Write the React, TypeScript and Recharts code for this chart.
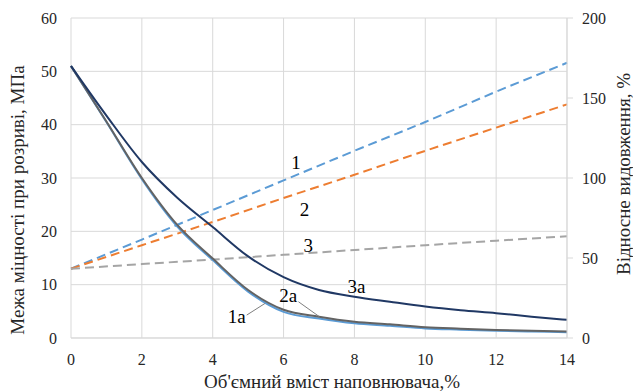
import {
  ComposedChart,
  Line,
  XAxis,
  YAxis,
  CartesianGrid,
  ReferenceDot,
  ReferenceLine,
  Label,
} from "recharts";

// filler volume content, %
const fillerContent = [0, 1, 2, 3, 4, 5, 6, 7, 8, 9, 10, 11, 12, 13, 14];

// tensile strength, MPa (left axis)
const strength1a = [51, 40.5, 29.8, 20.9, 14.6, 8.7, 4.9, 3.65, 2.75, 2.3, 1.8, 1.57, 1.36, 1.22, 1.08];
const strength2a = [51, 40.6, 30.0, 21.2, 14.9, 9.0, 5.3, 4.0, 3.06, 2.56, 2.02, 1.75, 1.52, 1.35, 1.22];
const strength3a = [51, 41.7, 33.0, 26.3, 20.8, 15.3, 11.4, 9.0, 7.75, 6.8, 5.9, 5.2, 4.65, 4.0, 3.4];

// relative elongation, % (right axis), read at even content values
const elongationX = [0, 2, 4, 6, 8, 10, 12, 14];
const elongation1 = [43.3, 61.5, 80, 98.5, 117, 135, 154, 172];
const elongation2 = [43.3, 58, 72.5, 87.5, 102, 117, 131.5, 146];
const elongation3 = [43.3, 46.2, 49, 52, 55, 58, 60.8, 63.6];

const xTicks = [0, 2, 4, 6, 8, 10, 12, 14];
const leftTicks = [0, 10, 20, 30, 40, 50, 60];
const rightTicks = [0, 50, 100, 150, 200];

const FONT = "Liberation Serif, DejaVu Serif, Times New Roman, serif";
const GRID = "#D9D9D9";
const TEXT = "#262626";

const chartData = fillerContent.map((x, i) => {
  const k = elongationX.indexOf(x);
  return {
    x,
    s1a: strength1a[i],
    s2a: strength2a[i],
    s3a: strength3a[i],
    e1: k >= 0 ? elongation1[k] : null,
    e2: k >= 0 ? elongation2[k] : null,
    e3: k >= 0 ? elongation3[k] : null,
  };
});

// curve labels placed in data coordinates (left axis)
const curveLabels = [
  { text: "1", x: 6.35, y: 33.0 },
  { text: "2", x: 6.59, y: 24.1 },
  { text: "3", x: 6.7, y: 17.4 },
  { text: "3a", x: 8.06, y: 9.75 },
  { text: "2a", x: 6.13, y: 8.0 },
  { text: "1a", x: 4.68, y: 4.0 },
];

const leaders = [
  [{ x: 4.96, y: 4.3 }, { x: 5.48, y: 6.5 }],
  [{ x: 6.42, y: 6.8 }, { x: 7.01, y: 4.0 }],
];

const titleStyle = { fontFamily: FONT, fontSize: 19, fill: TEXT };

function LeftTitle(props: any) {
  const vb = props.viewBox;
  const cx = vb.x + 17;
  const cy = vb.y + vb.height / 2 + 22;
  return (
    <text x={cx} y={cy} transform={`rotate(-90 ${cx} ${cy})`} textAnchor="middle" dominantBaseline="central" fontFamily={FONT} style={titleStyle}>
      Межа міцності при розриві, МПа
    </text>
  );
}

function RightTitle(props: any) {
  const vb = props.viewBox;
  const cx = vb.x + 56;
  const cy = vb.y + vb.height / 2 - 4;
  return (
    <text x={cx} y={cy} transform={`rotate(-90 ${cx} ${cy})`} textAnchor="middle" dominantBaseline="central" fontFamily={FONT} style={titleStyle}>
      Відносне видовження, %
    </text>
  );
}

function BottomTitle(props: any) {
  const vb = props.viewBox;
  return (
    <text x={vb.x + 261} y={vb.y + 50} textAnchor="middle" fontFamily={FONT} style={titleStyle}>
      Об'ємний вміст наповнювача,%
    </text>
  );
}

export default function App() {
  const tick = { fontFamily: FONT, fontSize: 16, fill: TEXT };
  return (
    <div style={{ position: "absolute", left: 0, top: 0, width: 633, height: 392, background: "#fff", fontFamily: FONT }}>
      <ComposedChart width={633} height={392} data={chartData} margin={{ top: 18, right: 0, bottom: 0, left: 0 }}>
        <CartesianGrid yAxisId="left" stroke={GRID} strokeWidth={1} />
        <XAxis
          dataKey="x"
          type="number"
          domain={[0, 14]}
          ticks={xTicks}
          tick={tick}
          tickLine={false}
          tickMargin={10}
          axisLine={{ stroke: GRID }}
          height={54}
        >
          <Label content={BottomTitle} />
        </XAxis>
        <YAxis
          yAxisId="left"
          domain={[0, 60]}
          ticks={leftTicks}
          tick={tick}
          tickLine={false}
          axisLine={false}
          tickMargin={8}
          width={71}
        >
          <Label content={LeftTitle} />
        </YAxis>
        <YAxis
          yAxisId="right"
          orientation="right"
          domain={[0, 200]}
          ticks={rightTicks}
          tick={tick}
          tickLine={{ stroke: GRID }}
          tickSize={6}
          tickMargin={9}
          axisLine={{ stroke: GRID }}
          width={66}
        >
          <Label content={RightTitle} />
        </YAxis>

        <Line yAxisId="right" type="linear" dataKey="e1" stroke="#5B9BD5" strokeWidth={2} strokeDasharray="9 5" dot={false} connectNulls isAnimationActive={false} />
        <Line yAxisId="right" type="linear" dataKey="e2" stroke="#ED7D31" strokeWidth={2} strokeDasharray="9 5" dot={false} connectNulls isAnimationActive={false} />
        <Line yAxisId="right" type="linear" dataKey="e3" stroke="#A5A5A5" strokeWidth={2} strokeDasharray="9 5" dot={false} connectNulls isAnimationActive={false} />

        <Line yAxisId="left" type="monotone" dataKey="s1a" stroke="#5B9BD5" strokeWidth={2} dot={false} isAnimationActive={false} />
        <Line yAxisId="left" type="monotone" dataKey="s2a" stroke="#636363" strokeWidth={2} dot={false} isAnimationActive={false} />
        <Line yAxisId="left" type="monotone" dataKey="s3a" stroke="#203864" strokeWidth={2} dot={false} isAnimationActive={false} />

        {leaders.map((seg, i) => (
          <ReferenceLine key={`l${i}`} yAxisId="left" segment={seg} stroke="#7F7F7F" strokeWidth={1} />
        ))}
        {curveLabels.map((c) => (
          <ReferenceDot
            key={c.text}
            yAxisId="left"
            x={c.x}
            y={c.y}
            r={0}
            fill="none"
            stroke="none"
            label={{ value: c.text, position: "center", fontFamily: FONT, fontSize: 19, fill: "#000" }}
          />
        ))}
      </ComposedChart>
    </div>
  );
}
